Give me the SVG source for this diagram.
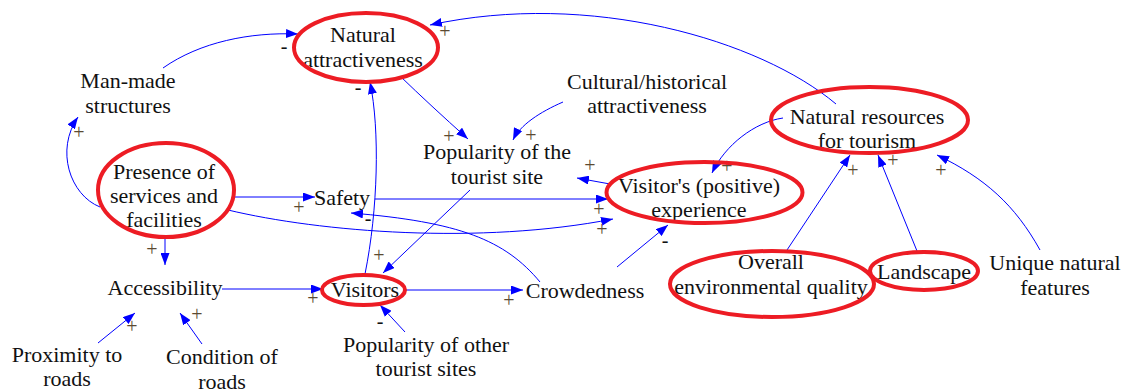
<svg xmlns="http://www.w3.org/2000/svg" width="1131" height="392" viewBox="0 0 1131 392">
  <defs>
    <marker id="ah" markerWidth="12" markerHeight="9" refX="12" refY="4.5" orient="auto" markerUnits="userSpaceOnUse">
      <path d="M0,0 L12,4.5 L0,9 z" fill="#0000ff"/>
    </marker>
    <style>
      .lbl { font-size: 22px; fill: #111; text-anchor: middle; }
      .sg { font-size: 20px; fill: #5b4a32; text-anchor: middle; }
      .ng { font-size: 20px; fill: #111; text-anchor: middle; }
      .cn { fill: none; stroke: #0000ff; stroke-width: 1; marker-end: url(#ah); }
      .hl { fill: none; stroke: #ed1c24; stroke-width: 4; }
    </style>
  </defs>
  <rect width="1131" height="392" fill="#ffffff"/>

  <!-- causal links -->
  <g id="connectors">
    <path class="cn" d="M163,68 C200,42 250,32 298,34"/>
    <path class="cn" d="M100,207 C70,195 55,150 78,117"/>
    <path class="cn" d="M836,104 C760,40 590,-10 430,25"/>
    <path class="cn" d="M400,76 Q430,105 468,139"/>
    <path class="cn" d="M563,102 C540,112 520,125 513,140"/>
    <path class="cn" d="M610,184 L577,178"/>
    <path class="cn" d="M783,118 C755,122 725,145 712,173"/>
    <path class="cn" d="M232,197 L315,197"/>
    <path class="cn" d="M375,199 L608,199"/>
    <path class="cn" d="M228,210 C320,232 480,245 613,219"/>
    <path class="cn" d="M540,282 C505,240 460,222 351,213"/>
    <path class="cn" d="M365,274 C378,210 380,130 370,82"/>
    <path class="cn" d="M470,190 L383,273"/>
    <path class="cn" d="M165,237 L165,265"/>
    <path class="cn" d="M222,289 L323,289"/>
    <path class="cn" d="M405,290 L523,290"/>
    <path class="cn" d="M98,343 L135,313"/>
    <path class="cn" d="M202,344 L180,313"/>
    <path class="cn" d="M405,332 L380,305"/>
    <path class="cn" d="M617,267 L668,225"/>
    <path class="cn" d="M787,250 L850,155"/>
    <path class="cn" d="M917,251 L878,155"/>
    <path class="cn" d="M1040,250 C1015,205 985,178 937,155"/>
  </g>

  <!-- link polarities -->
  <g id="polarities" font-family="'Liberation Serif', 'Times New Roman', Times, serif">
    <text class="ng" x="284" y="53">-</text>
    <text class="ng" x="358" y="94">-</text>
    <text class="sg" x="79" y="139">+</text>
    <text class="sg" x="445" y="38">+</text>
    <text class="sg" x="449" y="143">+</text>
    <text class="sg" x="531" y="142">+</text>
    <text class="sg" x="590" y="172">+</text>
    <text class="sg" x="727" y="173">+</text>
    <text class="sg" x="853" y="177">+</text>
    <text class="sg" x="893" y="167">+</text>
    <text class="sg" x="941" y="177">+</text>
    <text class="sg" x="299" y="214">+</text>
    <text class="ng" x="368" y="225">-</text>
    <text class="sg" x="379" y="262">+</text>
    <text class="sg" x="599" y="216">+</text>
    <text class="sg" x="602" y="236">+</text>
    <text class="ng" x="665" y="247">-</text>
    <text class="sg" x="152" y="256">+</text>
    <text class="sg" x="313" y="305">+</text>
    <text class="sg" x="132" y="333">+</text>
    <text class="sg" x="197" y="321">+</text>
    <text class="ng" x="380" y="328">-</text>
    <text class="sg" x="509" y="307">+</text>
  </g>

  <g id="nodes" font-family="'Liberation Serif', 'Times New Roman', Times, serif">
    <g id="natural-attractiveness">
      <text class="lbl" x="363" y="42">Natural</text>
      <text class="lbl" x="363" y="67">attractiveness</text>
      <ellipse class="hl" cx="366" cy="47.5" rx="72" ry="34.5"/>
    </g>
    <g id="man-made-structures">
      <text class="lbl" x="128" y="88">Man-made</text>
      <text class="lbl" x="128" y="113">structures</text>
    </g>
    <g id="cultural-historical-attractiveness">
      <text class="lbl" x="647" y="89">Cultural/historical</text>
      <text class="lbl" x="647" y="113">attractiveness</text>
    </g>
    <g id="popularity-of-site">
      <text class="lbl" x="497" y="159">Popularity of the</text>
      <text class="lbl" x="497" y="184">tourist site</text>
    </g>
    <g id="natural-resources">
      <text class="lbl" x="867" y="124">Natural resources</text>
      <text class="lbl" x="867" y="148">for tourism</text>
      <ellipse class="hl" cx="869.5" cy="120" rx="98.5" ry="33"/>
    </g>
    <g id="presence-of-services">
      <text class="lbl" x="164" y="179">Presence of</text>
      <text class="lbl" x="164" y="203">services and</text>
      <text class="lbl" x="164" y="227">facilities</text>
      <ellipse class="hl" cx="166" cy="190" rx="68" ry="47"/>
    </g>
    <g id="safety">
      <text class="lbl" x="342" y="205">Safety</text>
    </g>
    <g id="visitor-experience">
      <text class="lbl" x="699" y="193">Visitor's (positive)</text>
      <text class="lbl" x="699" y="217">experience</text>
      <ellipse class="hl" cx="704.5" cy="192.5" rx="98" ry="30.5"/>
    </g>
    <g id="accessibility">
      <text class="lbl" x="165" y="295">Accessibility</text>
    </g>
    <g id="visitors">
      <text class="lbl" x="365" y="297">Visitors</text>
      <ellipse class="hl" cx="363.5" cy="290" rx="41.5" ry="15"/>
    </g>
    <g id="crowdedness">
      <text class="lbl" x="585" y="298">Crowdedness</text>
    </g>
    <g id="proximity-to-roads">
      <text class="lbl" x="67" y="362">Proximity to</text>
      <text class="lbl" x="67" y="386">roads</text>
    </g>
    <g id="condition-of-roads">
      <text class="lbl" x="222" y="364">Condition of</text>
      <text class="lbl" x="222" y="389">roads</text>
    </g>
    <g id="popularity-of-other-sites">
      <text class="lbl" x="426" y="352">Popularity of other</text>
      <text class="lbl" x="426" y="376">tourist sites</text>
    </g>
    <g id="environmental-quality">
      <text class="lbl" x="771" y="269">Overall</text>
      <text class="lbl" x="771" y="294">environmental quality</text>
      <ellipse class="hl" cx="772" cy="284" rx="102" ry="33"/>
    </g>
    <g id="landscape">
      <text class="lbl" x="924" y="279">Landscape</text>
      <ellipse class="hl" cx="924" cy="271" rx="54" ry="19"/>
    </g>
    <g id="unique-natural-features">
      <text class="lbl" x="1055" y="270">Unique natural</text>
      <text class="lbl" x="1055" y="295">features</text>
    </g>
  </g>
</svg>
